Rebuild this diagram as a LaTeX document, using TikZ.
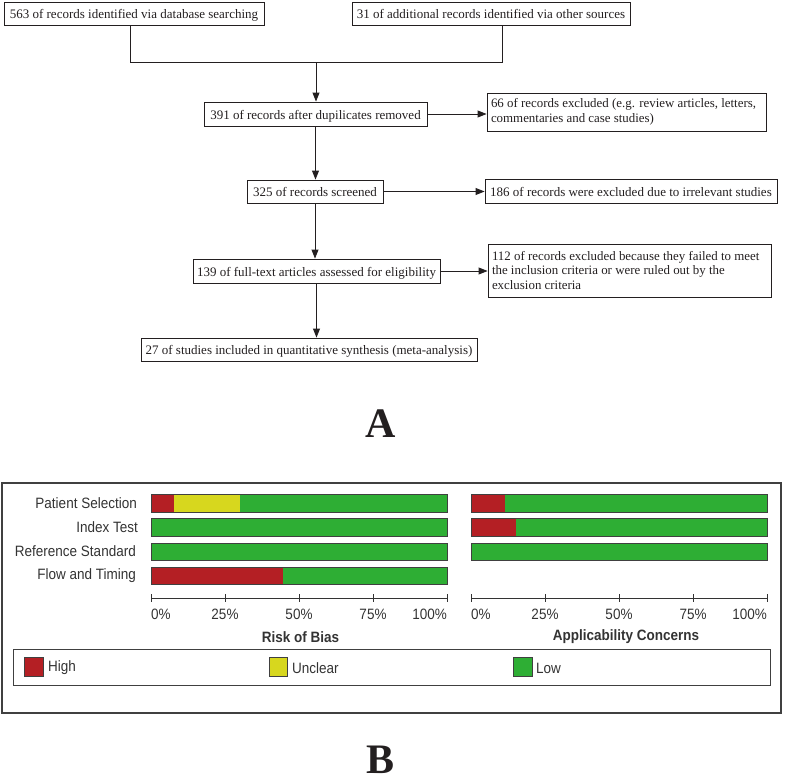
\documentclass[tikz,border=0pt]{standalone}
\usepackage{fontspec}
\setmainfont{Liberation Serif}
\setsansfont{Liberation Sans}
\usetikzlibrary{arrows.meta}
\definecolor{ink}{HTML}{231F20}
\definecolor{rhigh}{HTML}{B41F24}
\definecolor{yunc}{HTML}{D7D71E}
\definecolor{glow}{HTML}{2EAE34}
\definecolor{framec}{HTML}{404040}
\definecolor{txtc}{HTML}{333333}
\newcommand\nartxt[1]{\scalebox{0.9}[1]{#1}}
\begin{document}
\begin{tikzpicture}[x=1pt,y=-1pt,
  fbox/.style={draw=ink, line width=0.9pt, inner sep=0pt, font=\fontsize{13}{14.5}\selectfont, text=ink, text height=10.5pt, text depth=0pt},
  mbox/.style={draw=ink, line width=0.9pt, inner ysep=0pt, inner xsep=4pt, font=\fontsize{12.9}{14.8}\selectfont, text=ink, align=flush left},
  conn/.style={draw=ink, line width=0.9pt},
  arr/.style={conn, -{Triangle[length=9pt,width=7pt]}},
  biglab/.style={font=\bfseries\fontsize{42}{42}\selectfont, text=ink, anchor=base, inner sep=0pt},
  rowlab/.style={font=\sffamily\fontsize{15}{16}\selectfont, text=txtc, anchor=east, inner sep=0pt},
  ticklab/.style={font=\sffamily\fontsize{15}{16}\selectfont, text=txtc, inner sep=0pt},
  axtitle/.style={font=\sffamily\bfseries\fontsize{15}{16}\selectfont, text=txtc, inner sep=0pt},
  barline/.style={draw=framec, line width=0.8pt},
  axline/.style={draw=txtc, line width=0.9pt}
]
\useasboundingbox (0,0) rectangle (789,782);

% ---------- Part A ----------
\node[fbox, minimum width=260pt, minimum height=23pt] (b1) at (134,13.5) {563 of records identified via database searching};
\node[fbox, minimum width=278pt, minimum height=23pt] (b2) at (491,13.5) {31 of additional records identified via other sources};
\node[fbox, minimum width=223pt, minimum height=24pt] (b3) at (315.5,114) {391 of records after dupilicates removed};
\node[mbox, text width=271pt, minimum height=38pt] (b4) at (626.5,112) {66 of records excluded (e.g. review articles, letters,\\commentaries and case studies)};
\node[fbox, minimum width=136pt, minimum height=23pt] (b5) at (315,191.5) {325 of records screened};
\node[fbox, minimum width=292pt, minimum height=24pt] (b6) at (631,191) {186 of records were excluded due to irrelevant studies};
\node[fbox, minimum width=247pt, minimum height=24pt] (b7) at (316.5,271) {139 of full-text articles assessed for eligibility};
\node[mbox, text width=275pt, minimum height=53pt] (b8) at (629.5,270.5) {112 of records excluded because they failed to meet\\the inclusion criteria or were ruled out by the\\exclusion criteria};
\node[fbox, minimum width=336pt, minimum height=23pt] (b9) at (309,349.5) {27 of studies included in quantitative synthesis (meta-analysis)};

\coordinate (j) at (316,62);
\coordinate (s1) at (130,25);
\coordinate (s2) at (502,25);
\draw[conn] (s1) |- (j);
\draw[conn] (s2) |- (j);
\draw[arr] (j) -- (j |- b3.north);
\draw[arr] (b3.east) -- (b3.east -| b4.west);
\draw[arr] (b3.south) -- (b3.south |- b5.north);
\draw[arr] (b5.east) -- (b5.east -| b6.west);
\draw[arr] (b5.south) -- (b5.south |- b7.north);
\draw[arr] (b7.east) -- (b7.east -| b8.west);
\draw[arr] (b7.south) -- (b7.south |- b9.north);

\node[biglab] (labA) at (381,437) {A};

% ---------- Part B ----------
\draw[draw=framec, line width=1.1pt] (2,483) rectangle (781,713);

% left chart bars
\fill[rhigh] (151,494) rectangle (174,512);
\fill[yunc] (174,494) rectangle (240,512);
\fill[glow] (240,494) rectangle (447,512);
\draw[barline] (151,494) rectangle (447,512);
\fill[glow] (151,518.5) rectangle (447,536);
\draw[barline] (151,518.5) rectangle (447,536);
\fill[glow] (151,543) rectangle (447,560);
\draw[barline] (151,543) rectangle (447,560);
\fill[rhigh] (151,567) rectangle (283,584);
\fill[glow] (283,567) rectangle (447,584);
\draw[barline] (151,567) rectangle (447,584);

% right chart bars
\fill[rhigh] (471,494) rectangle (505,512);
\fill[glow] (505,494) rectangle (767,512);
\draw[barline] (471,494) rectangle (767,512);
\fill[rhigh] (471,518.5) rectangle (516,536);
\fill[glow] (516,518.5) rectangle (767,536);
\draw[barline] (471,518.5) rectangle (767,536);
\fill[glow] (471,543) rectangle (767,560);
\draw[barline] (471,543) rectangle (767,560);

% row labels
\node[rowlab] (r1) at (137,503) {\nartxt{Patient Selection}};
\node[rowlab] (r2) at (138,527.5) {\nartxt{Index Test}};
\node[rowlab] (r3) at (136,551.5) {\nartxt{Reference Standard}};
\node[rowlab] (r4) at (136,575.5) {\nartxt{Flow and Timing}};

% axes
\draw[axline] (151,598) -- (447,598);
\foreach \x in {151,225,299,373,447} \draw[axline] (\x,594) -- (\x,602);
\draw[axline] (471,598) -- (767,598);
\foreach \x in {471,545,619,693,767} \draw[axline] (\x,594) -- (\x,602);

\node[ticklab, anchor=west] (t10) at (151,614) {\nartxt{0\%}};
\node[ticklab] (t11) at (225,614) {\nartxt{25\%}};
\node[ticklab] (t12) at (299,614) {\nartxt{50\%}};
\node[ticklab] (t13) at (373,614) {\nartxt{75\%}};
\node[ticklab, anchor=east] (t14) at (447,614) {\nartxt{100\%}};
\node[ticklab, anchor=west] (t20) at (471,614) {\nartxt{0\%}};
\node[ticklab] (t21) at (545,614) {\nartxt{25\%}};
\node[ticklab] (t22) at (619,614) {\nartxt{50\%}};
\node[ticklab] (t23) at (693,614) {\nartxt{75\%}};
\node[ticklab, anchor=east] (t24) at (767,614) {\nartxt{100\%}};

\node[axtitle] (ta) at (300.5,637) {\nartxt{Risk of Bias}};
\node[axtitle] (tb) at (626,637) {\nartxt{Applicability Concerns}};

% legend
\draw[draw=framec, line width=1pt] (13,649) rectangle (770,685);
\filldraw[fill=rhigh, draw=framec, line width=0.8pt] (24,657) rectangle (43,676);
\node[ticklab, anchor=west] (lh) at (48,668) {\nartxt{High}};
\filldraw[fill=yunc, draw=framec, line width=0.8pt] (269,657) rectangle (287,676);
\node[ticklab, anchor=west] (lu) at (292,668) {\nartxt{Unclear}};
\filldraw[fill=glow, draw=framec, line width=0.8pt] (513,657) rectangle (532,676);
\node[ticklab, anchor=west] (ll) at (536,668) {\nartxt{Low}};

\node[biglab] (labB) at (381,773) {B};
\end{tikzpicture}
\end{document}
